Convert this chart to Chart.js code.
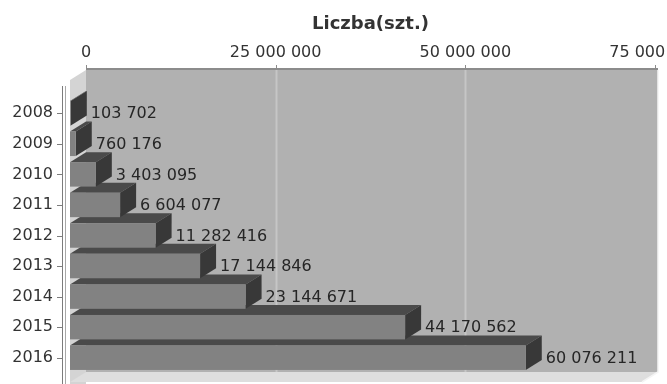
<!DOCTYPE html>
<html>
<head>
<meta charset="utf-8">
<script src="https://cdn.jsdelivr.net/npm/chart.js@4"></script>
<style>
  body { margin: 0; background: #fff; }
  #wrap { width: 667px; height: 384px; overflow: hidden; position: relative; }
  #inner { width: 720px; height: 384px; position: relative; }
</style>
</head>
<body>
<div id="wrap"><div id="inner"><canvas id="chart"></canvas></div></div>
<script>
const years = ["2008", "2009", "2010", "2011", "2012", "2013", "2014", "2015", "2016"];
const counts = [103702, 760176, 3403095, 6604077, 11282416, 17144846, 23144671, 44170562, 60076211];
const xTicks = [0, 25000000, 50000000, 75000000];

const DX = 16, DY = 10;
const font = "'DejaVu Sans', sans-serif";

function fmt(v) {
  return String(v).replace(/\B(?=(\d{3})+(?!\d))/g, " ");
}

function poly(ctx, pts, fill) {
  ctx.beginPath();
  ctx.moveTo(pts[0][0], pts[0][1]);
  for (let i = 1; i < pts.length; i++) ctx.lineTo(pts[i][0], pts[i][1]);
  ctx.closePath();
  ctx.fillStyle = fill;
  ctx.fill();
}

// 3D walls, floor and axes, then the bars as boxes
const walls = {
  id: "walls",
  beforeDatasetsDraw(chart) {
    const ctx = chart.ctx, a = chart.chartArea, xs = chart.scales.x, ys = chart.scales.y;
    const top = a.top - 28, floorY = a.bottom - 1, right = a.right + 3;
    ctx.save();
    // back wall
    ctx.fillStyle = "#b1b1b1";
    ctx.fillRect(a.left, top, right - a.left, floorY - top);
    // grid lines
    ctx.strokeStyle = "#c6c6c6";
    ctx.lineWidth = 2;
    xTicks.slice(1, -1).forEach(t => {
      const x = Math.round(xs.getPixelForValue(t)) + 0.5;
      ctx.beginPath(); ctx.moveTo(x, top); ctx.lineTo(x, floorY); ctx.stroke();
    });
    // left wall
    poly(ctx, [[a.left, top], [a.left - DX, top + DY], [a.left - DX, 400], [a.left, 400]], "#d4d4d4");
    // floor
    poly(ctx, [[a.left, floorY], [right, floorY], [right - DX, floorY + DY], [a.left - DX, floorY + DY]], "#dedede");
    ctx.strokeStyle = "#f4f4f4";
    ctx.lineWidth = 1.5;
    ctx.beginPath(); ctx.moveTo(right, top); ctx.lineTo(right, floorY); ctx.lineTo(right - DX, floorY + DY); ctx.stroke();
    // top axis
    ctx.strokeStyle = "#8c8c8c";
    ctx.lineWidth = 2;
    ctx.beginPath(); ctx.moveTo(a.left, top - 1); ctx.lineTo(right, top - 1); ctx.stroke();
    ctx.lineWidth = 1;
    xTicks.forEach(t => {
      const x = Math.round(xs.getPixelForValue(t)) + 0.5;
      ctx.beginPath(); ctx.moveTo(x, top - 1); ctx.lineTo(x, top - 5); ctx.stroke();
    });
    // left axis
    const lx = a.left - DX - 8;
    ctx.strokeStyle = "#7c7c7c";
    ctx.beginPath(); ctx.moveTo(lx + 0.5, top + DY + 6); ctx.lineTo(lx + 0.5, 400); ctx.stroke();
    ctx.strokeStyle = "#a8a8a8";
    ctx.beginPath(); ctx.moveTo(lx + 3.5, top + DY + 6); ctx.lineTo(lx + 3.5, 400); ctx.stroke();
    ctx.strokeStyle = "#7c7c7c";
    years.forEach((y, i) => {
      const py = Math.round(ys.getPixelForValue(i)) + 0.5;
      ctx.beginPath(); ctx.moveTo(lx - 5, py); ctx.lineTo(lx, py); ctx.stroke();
    });
    ctx.restore();
  },
  afterDatasetsDraw(chart) {
    const ctx = chart.ctx, meta = chart.getDatasetMeta(0);
    ctx.save();
    for (let i = meta.data.length - 1; i >= 0; i--) {
      const p = meta.data[i].getProps(["x", "y", "base", "height"], true);
      const fl = p.base - DX, fr = p.x - DX, ft = p.y - p.height / 2, fb = p.y + p.height / 2;
      poly(ctx, [[fl, ft], [fr, ft], [fr + DX, ft - DY], [fl + DX, ft - DY]], "#4a4a4a");
      poly(ctx, [[fr, ft], [fr + DX, ft - DY], [fr + DX, fb - DY], [fr, fb]], "#383838");
      ctx.fillStyle = "#828282";
      ctx.fillRect(fl, ft, fr - fl, fb - ft);
    }
    ctx.fillStyle = "#262626";
    ctx.font = "16px " + font;
    ctx.textBaseline = "middle";
    ctx.textAlign = "left";
    meta.data.forEach((el, i) => {
      const p = el.getProps(["x", "y"], true);
      ctx.fillText(fmt(counts[i]), p.x + 4, p.y + 1);
    });
    ctx.restore();
  }
};

new Chart(document.getElementById("chart"), {
  type: "bar",
  data: {
    labels: years,
    datasets: [{
      label: "Liczba(szt.)",
      data: counts,
      backgroundColor: "rgba(0,0,0,0)",
      barPercentage: 0.8,
      categoryPercentage: 1
    }]
  },
  options: {
    indexAxis: "y",
    responsive: true,
    maintainAspectRatio: false,
    animation: false,
    layout: { padding: { left: 10, right: 65, top: 0, bottom: 11 } },
    plugins: { legend: { display: false }, tooltip: { enabled: false } },
    scales: {
      x: {
        position: "top",
        min: 0,
        max: 75000000,
        afterBuildTicks: s => { s.ticks = xTicks.map(v => ({ value: v })); },
        ticks: { callback: v => fmt(v), padding: 36, color: "#333", font: { family: font, size: 16 }, maxRotation: 0 },
        grid: { display: false, drawTicks: false },
        border: { display: false },
        title: { display: true, text: "Liczba(szt.)", color: "#333", font: { family: font, size: 18, weight: "bold" }, padding: { top: 14, bottom: 4 } },
        afterFit: s => { s.height = 98; s.paddingLeft = 0; s.paddingRight = 0; }
      },
      y: {
        ticks: { padding: 33, color: "#333", font: { family: font, size: 16 } },
        grid: { display: false, drawTicks: false },
        border: { display: false },
        afterFit: s => { s.width = 76; s.paddingTop = 0; s.paddingBottom = 0; }
      }
    }
  },
  plugins: [walls]
});
</script>
</body>
</html>
